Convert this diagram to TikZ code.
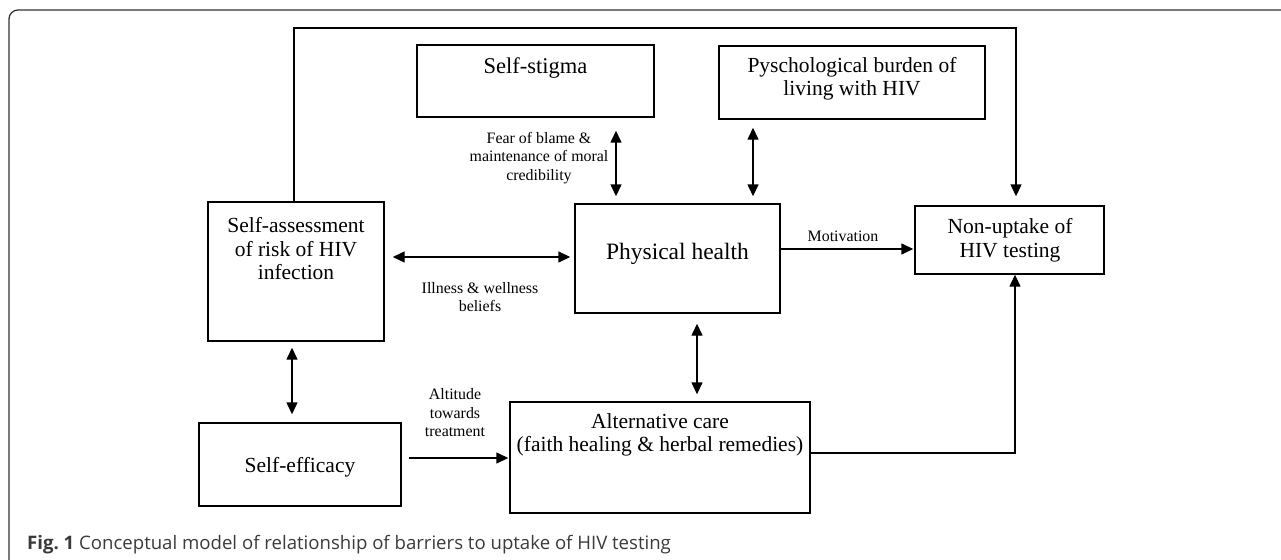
\documentclass[tikz,border=0pt]{standalone}
\usepackage{fontspec}
\setmainfont{Liberation Serif}
\newfontfamily\capsans{Open Sans}
\usetikzlibrary{arrows.meta}
\definecolor{framegray}{HTML}{333333}
\definecolor{capgray}{HTML}{3A3A3A}
\begin{document}
\begin{tikzpicture}[x=1pt,y=-1pt,
  box/.style={draw, line width=1.4pt, inner sep=0pt},
  boxtext/.style={align=center, inner sep=0pt, font=\fontsize{21.5}{23.5}\selectfont},
  lbl/.style={align=center, inner sep=0pt, font=\fontsize{15.9}{18.5}\selectfont},
  tip/.tip={Triangle[length=12pt,width=11pt]},
  arr/.style={line width=1.4pt, -tip},
  dbl/.style={line width=1.4pt, tip-tip}]
\useasboundingbox (0,0) rectangle (1281,559);
\begin{scope}
\clip (0,0) rectangle (1281,559);
\draw[framegray, line width=1.3pt, rounded corners=9pt] (9,10) rectangle (1300,580);
\end{scope}

% boxes
\node[box, minimum width=237pt, minimum height=72pt] (stigma) at (535.5,81) {};
\node[box, minimum width=266pt, minimum height=73pt] (burden) at (852,82.5) {};
\node[box, minimum width=176pt, minimum height=139pt] (assess) at (296,271.5) {};
\node[box, minimum width=205pt, minimum height=109pt] (phys) at (677.5,258.5) {};
\node[box, minimum width=189pt, minimum height=68pt] (nonup) at (1009.5,240) {};
\node[box, minimum width=202pt, minimum height=83pt] (effic) at (300,464.5) {};
\node[box, minimum width=300pt, minimum height=111pt] (alt) at (660,457.5) {};

% box texts
\node[boxtext, font=\fontsize{22.5}{24}\selectfont] (stigmaT) at (535.5,68) {Self-stigma};
\node[boxtext] (burdenT) at (852,79) {Pyschological burden of\\living with HIV};
\node[boxtext] (assessT) at (296,249) {Self-assessment\\of risk of HIV\\infection};
\node[boxtext, font=\fontsize{23.5}{26}\selectfont] (physT) at (677.5,254) {Physical health};
\node[boxtext] (nonupT) at (1010,240) {Non-uptake of\\HIV testing};
\node[boxtext] (efficT) at (300,467) {Self-efficacy};
\node[boxtext] (altT) at (660,435) {Alternative care\\(faith healing \& herbal remedies)};

% labels
\node[lbl] (fear) at (539,158) {Fear of blame \&\\maintenance of moral\\credibility};
\node[lbl] (ill) at (480,297) {Illness \& wellness\\beliefs};
\node[lbl] (mot) at (843,236) {Motivation};
\node[lbl] (atti) at (455,413) {Altitude\\towards\\treatment};

% connectors
\draw[dbl, shorten <=13pt, shorten >=7pt] (616,0 |- stigma.south) -- (616,0 |- phys.north);
\draw[dbl, shorten <=8pt, shorten >=7pt] (753,0 |- burden.south) -- (753,0 |- phys.north);
\draw[arr, shorten >=9pt] (294,0 |- assess.north) |- (1016,28) -- (1016,0 |- nonup.north);
\draw[dbl, shorten <=8pt, shorten >=4pt] (assess.east |- 0,257) -- (phys.west |- 0,257);
\draw[arr, shorten >=1pt] (phys.east |- 0,249) -- (nonup.west |- 0,249);
\draw[dbl, shorten <=10pt, shorten >=7pt] (697,0 |- phys.south) -- (697,0 |- alt.north);
\draw[dbl, shorten <=6pt, shorten >=8pt] (292,0 |- assess.south) -- (292,0 |- effic.north);
\draw[arr, shorten <=7pt, shorten >=1pt] (effic.east |- 0,458) -- (alt.west |- 0,458);
\draw[arr] (alt.east |- 0,453) -| (1015,0 |- nonup.south);

% caption
\node[anchor=base west, inner sep=0pt, text=capgray, font=\capsans\fontsize{18.6}{20}\selectfont] (cap) at (27,549)
  {{\bfseries Fig.\ 1} Conceptual model of relationship of barriers to uptake of HIV testing};
\end{tikzpicture}
\end{document}
